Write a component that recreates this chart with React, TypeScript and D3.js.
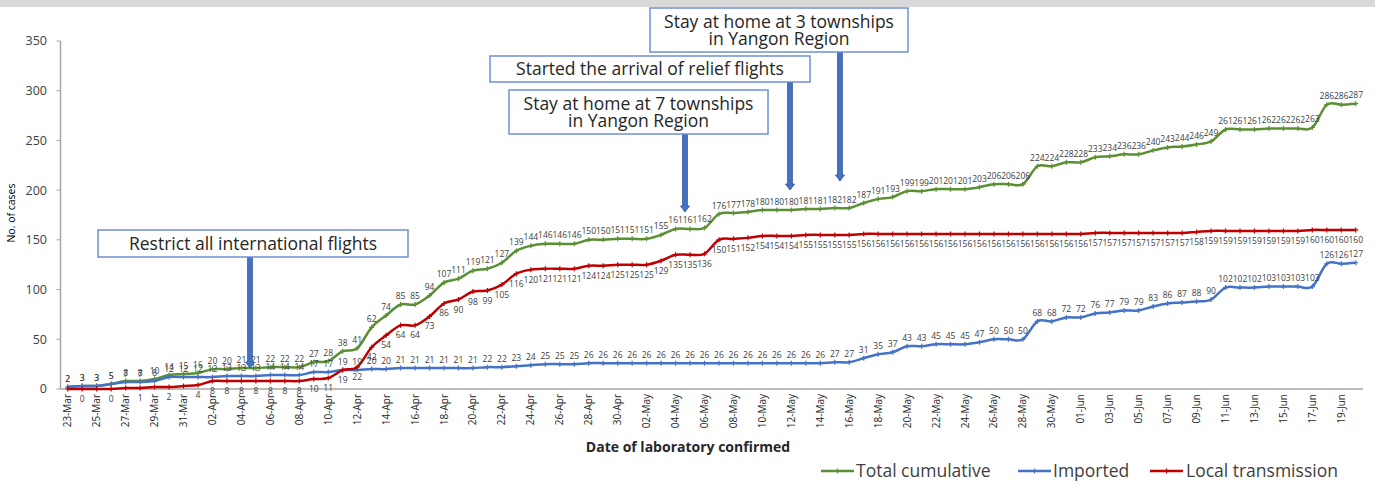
import React from 'react';
import * as d3 from 'd3';

const dates = [
  '23-Mar','24-Mar','25-Mar','26-Mar','27-Mar','28-Mar','29-Mar','30-Mar','31-Mar',
  '01-Apr','02-Apr','03-Apr','04-Apr','05-Apr','06-Apr','07-Apr','08-Apr','09-Apr','10-Apr',
  '11-Apr','12-Apr','13-Apr','14-Apr','15-Apr','16-Apr','17-Apr','18-Apr','19-Apr','20-Apr',
  '21-Apr','22-Apr','23-Apr','24-Apr','25-Apr','26-Apr','27-Apr','28-Apr','29-Apr','30-Apr',
  '01-May','02-May','03-May','04-May','05-May','06-May','07-May','08-May','09-May','10-May',
  '11-May','12-May','13-May','14-May','15-May','16-May','17-May','18-May','19-May','20-May',
  '21-May','22-May','23-May','24-May','25-May','26-May','27-May','28-May','29-May','30-May','31-May',
  '01-Jun','02-Jun','03-Jun','04-Jun','05-Jun','06-Jun','07-Jun','08-Jun','09-Jun','10-Jun',
  '11-Jun','12-Jun','13-Jun','14-Jun','15-Jun','16-Jun','17-Jun','18-Jun','19-Jun','20-Jun',
];

const totalCumulative = [
  2, 3, 3, 5, 8, 8, 10, 14, 15, 16,
  20, 20, 21, 21, 22, 22, 22, 27, 28, 38,
  41, 62, 74, 85, 85, 94, 107, 111, 119, 121,
  127, 139, 144, 146, 146, 146, 150, 150, 151, 151,
  151, 155, 161, 161, 162, 176, 177, 178, 180, 180,
  180, 181, 181, 182, 182, 187, 191, 193, 199, 199,
  201, 201, 201, 203, 206, 206, 206, 224, 224, 228,
  228, 233, 234, 236, 236, 240, 243, 244, 246, 249,
  261, 261, 261, 262, 262, 262, 263, 286, 286, 287,
];

const imported = [
  2, 3, 3, 5, 7, 7, 8, 12, 12, 12,
  12, 13, 13, 13, 14, 14, 14, 17, 17, 19,
  19, 20, 20, 21, 21, 21, 21, 21, 21, 22,
  22, 23, 24, 25, 25, 25, 26, 26, 26, 26,
  26, 26, 26, 26, 26, 26, 26, 26, 26, 26,
  26, 26, 26, 27, 27, 31, 35, 37, 43, 43,
  45, 45, 45, 47, 50, 50, 50, 68, 68, 72,
  72, 76, 77, 79, 79, 83, 86, 87, 88, 90,
  102, 102, 102, 103, 103, 103, 103, 126, 126, 127,
];

const localTransmission = [
  0, 0, 0, 0, 1, 1, 2, 2, 3, 4,
  8, 8, 8, 8, 8, 8, 8, 10, 11, 19,
  22, 42, 54, 64, 64, 73, 86, 90, 98, 99,
  105, 116, 120, 121, 121, 121, 124, 124, 125, 125,
  125, 129, 135, 135, 136, 150, 151, 152, 154, 154,
  154, 155, 155, 155, 155, 156, 156, 156, 156, 156,
  156, 156, 156, 156, 156, 156, 156, 156, 156, 156,
  156, 157, 157, 157, 157, 157, 157, 157, 158, 159,
  159, 159, 159, 159, 159, 159, 160, 160, 160, 160,
];

const hiddenLocalLabels = [0, 2, 4, 6, 8];
const yTicks = [0, 50, 100, 150, 200, 250, 300, 350];
const seriesNames = ['Total cumulative', 'Imported', 'Local transmission'];
const seriesColors = ['#5B8F33', '#4472C4', '#C00000'];

const annotations = [
  { lines: ['Restrict all international flights'] },
  { lines: ['Stay at home at 7 townships', 'in Yangon Region'] },
  { lines: ['Started the arrival of relief flights'] },
  { lines: ['Stay at home at 3 townships', 'in Yangon Region'] },
];

const FONT = "'Open Sans', 'Liberation Sans', sans-serif";

export default function App() {
  const W = 1375;
  const H = 484;
  const plotLeft = 60.5;
  const plotRight = 1363;
  const plotTop = 41;
  const plotBottom = 389;

  const x = d3.scaleBand<string>().domain(dates).range([plotLeft, plotRight]);
  const cx = (i: number) => (x(dates[i]) as number) + x.bandwidth() / 2;
  const y = d3.scaleLinear().domain([0, 350]).range([plotBottom, plotTop]);

  const lineGen = d3
    .line<number>()
    .x((_, i) => cx(i))
    .y((d) => y(d))
    .curve(d3.curveCatmullRom.alpha(0));

  const series = [
    { name: seriesNames[0], values: totalCumulative, color: seriesColors[0], below: false, hidden: [] as number[] },
    { name: seriesNames[1], values: imported, color: seriesColors[1], below: false, hidden: [] as number[] },
    { name: seriesNames[2], values: localTransmission, color: seriesColors[2], below: true, hidden: hiddenLocalLabels },
  ];

  // annotation layout (box + arrow geometry)
  const annLayout = [
    { x: 98, y: 230, w: 310, h: 27, ax: 250, ay: 368 },
    { x: 509, y: 90, w: 259, h: 44, ax: 685, ay: 212 },
    { x: 490, y: 56, w: 320, h: 26, ax: 790, ay: 190 },
    { x: 650, y: 8, w: 258, h: 44, ax: 840, ay: 181 },
  ];

  const legendLayout = [
    { lx: 821, tx: 856 },
    { lx: 1018, tx: 1053 },
    { lx: 1150, tx: 1186 },
  ];

  const arrowPath = (ax: number, top: number, tip: number) => {
    const sw = 2.4;
    const hw = 4.5;
    const hh = 6;
    return `M${ax - sw},${top}V${tip - hh}H${ax - hw}L${ax},${tip}L${ax + hw},${tip - hh}H${ax + sw}V${top}Z`;
  };

  return (
    <svg
      width={W}
      height={H}
      style={{ position: 'absolute', left: 0, top: 0, background: '#fff' }}
      fontFamily={FONT}
    >
      <rect x={0} y={0} width={W} height={H} fill="#fff" />
      <rect x={0} y={0} width={W} height={7} fill="#D9D9D9" />

      {/* Y axis */}
      <line x1={plotLeft} x2={plotLeft} y1={plotTop} y2={plotBottom} stroke="#A6A6A6" strokeWidth={1.5} />
      {yTicks.map((t) => (
        <g key={t}>
          <line x1={plotLeft - 4} x2={plotLeft} y1={y(t)} y2={y(t)} stroke="#A6A6A6" strokeWidth={1} />
          <text x={47} y={y(t)} dy="0.35em" textAnchor="end" fontSize={12.5} fill="#404040">
            {t}
          </text>
        </g>
      ))}
      <text
        transform={`translate(15,213) rotate(-90)`}
        textAnchor="middle"
        fontSize={10.5}
        fill="#000"
      >
        No. of cases
      </text>

      {/* X axis */}
      <line x1={plotLeft} x2={plotRight} y1={plotBottom} y2={plotBottom} stroke="#A6A6A6" strokeWidth={1.5} />
      {dates.map((d, i) =>
        i % 2 === 0 ? (
          <text
            key={d}
            transform={`translate(${cx(i) + 3.5},${plotBottom + 5}) rotate(-90)`}
            textAnchor="end"
            fontSize={10}
            fill="#262626"
          >
            {d}
          </text>
        ) : null
      )}
      <text x={688} y={452} textAnchor="middle" fontSize={14} fontWeight="bold" fill="#262626">
        Date of laboratory confirmed
      </text>

      {/* Series */}
      {series.map((s) => (
        <g key={s.name}>
          <path d={lineGen(s.values) || ''} fill="none" stroke={s.color} strokeWidth={2.5} />
          {s.values.map((v, i) => (
            <path
              key={i}
              d={`M${cx(i) - 2.5},${y(v)}H${cx(i) + 2.5}M${cx(i)},${y(v) - 2.5}V${y(v) + 2.5}`}
              stroke={s.color}
              strokeWidth={1.2}
            />
          ))}
        </g>
      ))}

      {/* Data labels */}
      {series.map((s) => (
        <g key={s.name + '-labels'}>
          {s.values.map((v, i) =>
            s.hidden.includes(i) ? null : (
              <text
                key={i}
                x={cx(i)}
                y={s.below ? y(v) + 13 : y(v) - 5.5}
                textAnchor="middle"
                fontSize={8.5}
                fill="#404040"
              >
                {v}
              </text>
            )
          )}
        </g>
      ))}

      {/* Annotations */}
      {annotations.map((a, k) => {
        const L = annLayout[k];
        const cxBox = L.x + L.w / 2;
        const cyBox = L.y + L.h / 2;
        const lh = 17;
        return (
          <g key={k}>
            <path
              d={arrowPath(L.ax, L.y + L.h, L.ay)}
              fill="#4472C4"
              stroke="#2F528F"
              strokeWidth={0.8}
            />
            <rect x={L.x} y={L.y} width={L.w} height={L.h} fill="#fff" stroke="#6F8FD3" strokeWidth={1.5} />
            {a.lines.map((ln, j) => (
              <text
                key={j}
                x={cxBox}
                y={cyBox + (j - (a.lines.length - 1) / 2) * lh}
                dy="0.35em"
                textAnchor="middle"
                fontSize={17.5}
                fill="#262626"
              >
                {ln}
              </text>
            ))}
          </g>
        );
      })}

      {/* Legend */}
      {series.map((s, k) => {
        const L = legendLayout[k];
        const ly = 471;
        return (
          <g key={s.name + '-legend'}>
            <line x1={L.lx} x2={L.lx + 33} y1={ly} y2={ly} stroke={s.color} strokeWidth={2.5} />
            <path
              d={`M${L.lx + 14},${ly}H${L.lx + 19}M${L.lx + 16.5},${ly - 2.5}V${ly + 2.5}`}
              stroke={s.color}
              strokeWidth={1.2}
            />
            <text x={L.tx} y={ly} dy="0.35em" fontSize={17.5} fill="#404040">
              {s.name}
            </text>
          </g>
        );
      })}
    </svg>
  );
}
